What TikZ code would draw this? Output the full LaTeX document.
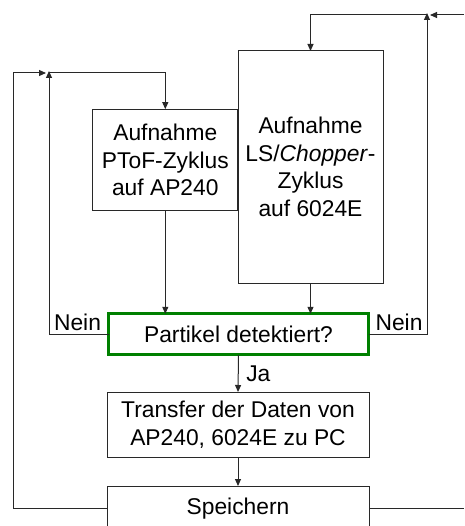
\documentclass[tikz,border=0pt]{standalone}
\usepackage{fontspec}
\setmainfont{Liberation Sans}
\usetikzlibrary{arrows.meta}
\definecolor{boxgreen}{RGB}{0,128,0}
\definecolor{linegray}{RGB}{40,40,40}
\begin{document}
\begin{tikzpicture}[x=1pt,y=-1pt,
  font=\fontsize{22.8}{27.5}\selectfont,
  every node/.style={inner sep=0pt,outer sep=0pt},
  box/.style={draw=linegray,line width=1pt,align=center},
  decbox/.style={draw=boxgreen,line width=3pt,align=center},
  conn/.style={draw=linegray,line width=1pt},
  arr/.style={conn,-{Triangle[length=7pt,width=6pt]}},
  lbl/.style={inner sep=0pt}]
\clip (0,0) rectangle (464,526);
\fill[white] (0,0) rectangle (464,526);
% boxes
\node[box,minimum width=145.3pt,minimum height=101.7pt] (ptof) at (165.3,160) {Aufnahme\\PToF-Zyklus\\auf AP240};
\node[box,minimum width=145pt,minimum height=232pt] (ls) at (310.5,167) {Aufnahme\\LS/\textit{Chopper}-\\Zyklus\\auf 6024E};
\node[decbox,minimum width=260pt,minimum height=41pt] (dec) at (238.5,334.3) {Partikel detektiert?};
\node[box,minimum width=262pt,minimum height=65pt] (trans) at (238,424.5) {Transfer der Daten von\\AP240, 6024E zu PC};
\node[box,minimum width=262pt,minimum height=46pt] (save) at (238,509) {Speichern};
% junction coordinates
\coordinate (lj) at (49,73);
\coordinate (lo) at (13,73);
\coordinate (rj) at (427,15);
\coordinate (ro) at (464,15);
\coordinate (rs) at (464,508);
% main flow
\draw[arr] (ptof.south) -- (ptof.south |- dec.north);
\draw[arr] (ls.south) -- (ls.south |- dec.north);
\draw[arr] (dec.south) -- node[lbl,right=8pt,pos=0.5] {Ja} (trans.north);
\draw[arr] (trans.south) -- (save.north);
% left loops
\draw[arr] (dec.west) -- (dec.west -| lj) -- ([yshift=2pt]lj);
\draw[arr] (save.west |- 0,508) -- (13,508) -- (lo) -- ([xshift=-3pt]lj);
\draw[arr] (lj) -- (lj -| ptof.north) -- (ptof.north);
% right loops
\draw[arr] (dec.east) -- (dec.east -| rj) -- ([yshift=2pt]rj);
\draw[conn] (save.east |- rs) -- (rs);
\draw[arr] (ro) -- ([xshift=3pt]rj);
\draw[arr] (rj) -- (rj -| ls.north) -- (ls.north);
% labels
\node[lbl] (nl) at (77.5,322) {Nein};
\node[lbl] (nr) at (399,322) {Nein};
\end{tikzpicture}
\end{document}
